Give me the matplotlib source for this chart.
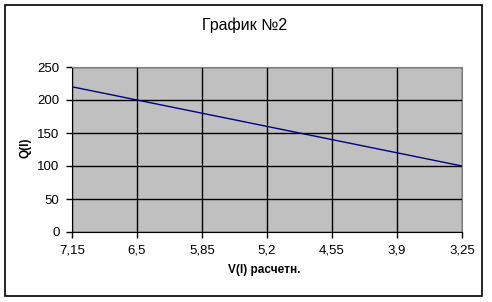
import matplotlib.pyplot as plt
from matplotlib.patches import Rectangle

# данные графика
v_labels = ['7,15', '6,5', '5,85', '5,2', '4,55', '3,9', '3,25']
q_values = [220, 200, 180, 160, 140, 120, 100]

plt.rcParams['font.family'] = ['Liberation Sans', 'DejaVu Sans']

fig = plt.figure(figsize=(4.92, 3.02), dpi=100)
fig.patch.set_facecolor('white')
fig.patches.append(Rectangle((5 / 492, 1 - 296 / 302), 477 / 492, 291 / 302,
                             transform=fig.transFigure, fill=False,
                             edgecolor='black', linewidth=1.2))

ax = fig.add_axes([72 / 492, 1 - 232 / 302, 390 / 492, 165 / 302])
ax.set_facecolor('#c0c0c0')

x = list(range(len(v_labels)))
ax.plot(x, q_values, color='#000080', linewidth=1)

ax.set_xlim(0, len(v_labels) - 1)
ax.set_ylim(0, 250)
ax.set_xticks(x)
ax.set_xticklabels(v_labels)
ax.set_yticks(range(0, 251, 50))
ax.grid(True, color='black', linewidth=1)
ax.set_axisbelow(True)

for s in ['top', 'right']:
    ax.spines[s].set_color('#808080')
for s in ['left', 'bottom']:
    ax.spines[s].set_color('black')
ax.tick_params(direction='out', length=4, width=1, labelsize=9.5, pad=5)

fig.text(245 / 492, 1 - 25 / 302, 'График №2', ha='center', va='center',
         fontsize=11.5)
fig.text(264 / 492, 1 - 270 / 302, 'V(l) расчетн.', ha='center', va='center',
         fontsize=8.5, fontweight='bold')
fig.text(25 / 492, 1 - 148 / 302, 'Q(l)', ha='center', va='center',
         rotation=90, fontsize=8.5, fontweight='bold')

fig.savefig('out.png', dpi=100)
